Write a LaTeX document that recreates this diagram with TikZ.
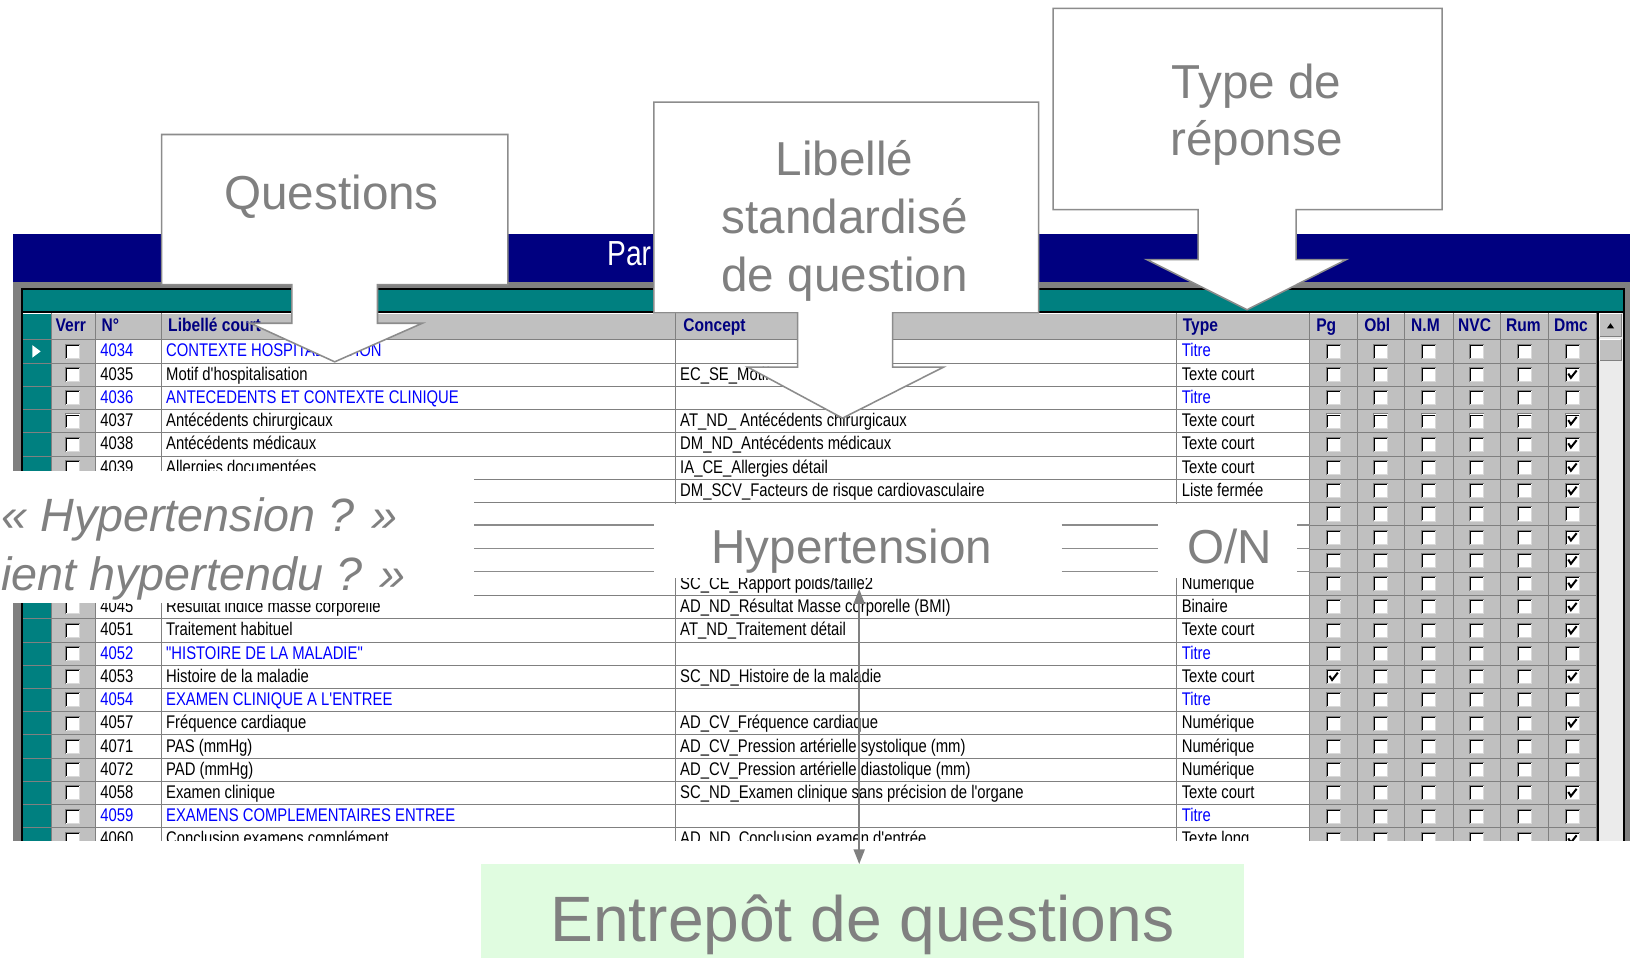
\documentclass[tikz,border=0pt]{standalone}
\usepackage{fontspec}
\setmainfont{Liberation Sans}
\newfontfamily\tabfont[FakeStretch=0.81]{Liberation Sans}
\newfontfamily\headfont[FakeStretch=0.85]{Liberation Sans}
\usetikzlibrary{arrows.meta}
\definecolor{winnavy}{RGB}{0,0,128}
\definecolor{winteal}{RGB}{0,128,128}
\definecolor{wingray}{RGB}{192,192,192}
\definecolor{windark}{RGB}{128,128,128}
\definecolor{callgray}{RGB}{128,128,128}
\definecolor{storegreen}{RGB}{224,252,224}
\definecolor{titreblue}{RGB}{0,0,255}
\def\rowy#1{337+22.29*#1}
\newcommand{\chkbox}[2]{%
  \fill[white] (#1-7,#2-7) rectangle (#1+7,#2+7);
  \draw[windark] (#1-7,#2+7) -- (#1-7,#2-7) -- (#1+7,#2-7);
  \draw[black] (#1-6,#2+6) -- (#1-6,#2-6) -- (#1+6,#2-6);
  \draw[black!15] (#1-6,#2+6.5) -- (#1+6.5,#2+6.5) -- (#1+6.5,#2-6);}
\newcommand{\chkmark}[2]{%
  \draw[line width=1.1pt] (#1-4,#2-1) -- (#1-1.5,#2+3) -- (#1+4,#2-4);}
\newcommand{\qrow}[6]{%
  \node[cell,text=#2] (n#1) at (96,{\rowy{#1}}) {#3};
  \node[cell,text=#2] (l#1) at (159,{\rowy{#1}}) {#4};
  \node[cell] (c#1) at (652,{\rowy{#1}}) {#5};
  \node[cell,text=#2] (t#1) at (1133,{\rowy{#1}}) {#6};}

\begin{document}
\begin{tikzpicture}[x=0.02cm, y=-0.02cm,
    cell/.style={anchor=west, inner sep=0pt, text height=8pt, text depth=2pt,
      font=\tabfont\fontsize{10}{12}\selectfont},
    headcell/.style={anchor=west, inner sep=0pt, text height=8pt, text depth=2pt,
      text=winnavy, font=\headfont\bfseries\fontsize{10}{12}\selectfont},
    callout/.style={draw=black!45, fill=white, line width=0.85pt},
    bigtext/.style={text=callgray, inner sep=0pt, font=\fontsize{26}{31.5}\selectfont},
    asktext/.style={text=callgray, inner sep=0pt, anchor=base west, font=\fontsize{25.5}{31}\selectfont\itshape},
    decoline/.style={draw=black!45, line width=0.85pt},
    linkarrow/.style={draw=callgray, line width=1pt, <->, >={Triangle[length=8pt,width=6pt]}},
    storebox/.style={fill=storegreen, inner sep=0pt, minimum width=14.64cm, minimum height=1.8cm}]
  \useasboundingbox (0,0) rectangle (1568,919);
  %%%%% START %%%%%

  % window title
  \fill[winnavy] (12,224) rectangle (1563,270);
  \node[anchor=base west, inner sep=0pt, text=white, font=\tabfont\fontsize{19}{20}\selectfont] (title) at (582,255) {Par};

  \begin{scope}
    \clip (0,0) rectangle (1568,806);
    \fill[windark] (12,270) rectangle (1563,820);
    \fill[black] (20,276) rectangle (1558,820);
    \fill[winteal] (22,278) rectangle (1556,298);
    \fill[wingray] (22,300) rectangle (1531,820);
    \fill[white] (91,326) rectangle (1256,820);
    \fill[winteal] (22,300) rectangle (49,820);

    % scroll bar
    \fill[black!8] (1533,300) rectangle (1556,820);
    \fill[wingray] (1534,301) rectangle (1555,323);
    \draw[white] (1534,323) -- (1534,301) -- (1555,301);
    \draw[windark] (1534,323) -- (1555,323) -- (1555,301);
    \fill[black] (1541,315) -- (1548,315) -- (1544.5,310) -- cycle;
    \fill[wingray] (1534,325) rectangle (1555,346);
    \draw[white] (1534,346) -- (1534,325) -- (1555,325);
    \draw[windark] (1534,346) -- (1555,346) -- (1555,325);

    % grid
    \draw[white] (22,301) -- (1531,301);
    \foreach \i in {0,...,21}
      \draw[windark] (22,{325.8+22.29*\i}) -- (1531,{325.8+22.29*\i});
    \foreach \cx in {49,91,155,648,1128,1256,1302,1347,1394,1439,1485,1531}
      \draw[windark] (\cx,300) -- (\cx,820);

    % column heads
    \node[headcell] (hverr) at (53,313) {Verr};
    \node[headcell] (hnum) at (97,313) {N°};
    \node[headcell] (hlib) at (161,313) {Libellé court};
    \node[headcell] (hconcept) at (655,313) {Concept};
    \node[headcell] (htype) at (1134,313) {Type};
    \node[headcell] (hpg) at (1262,313) {Pg};
    \node[headcell] (hobl) at (1308,313) {Obl};
    \node[headcell] (hnm) at (1353,313) {N.M};
    \node[headcell] (hnvc) at (1398,313) {NVC};
    \node[headcell] (hrum) at (1444,313) {Rum};
    \node[headcell] (hdmc) at (1490,313) {Dmc};

    \fill[white] (31,331) -- (39,337) -- (31,343) -- cycle;

    % rows
    \qrow{0}{titreblue}{4034}{CONTEXTE HOSPITALISATION}{}{Titre}
    \qrow{1}{black}{4035}{Motif d'hospitalisation}{EC\_SE\_Motif}{Texte court}
    \qrow{2}{titreblue}{4036}{ANTECEDENTS ET CONTEXTE CLINIQUE}{}{Titre}
    \qrow{3}{black}{4037}{Antécédents chirurgicaux}{AT\_ND\_ Antécédents chirurgicaux}{Texte court}
    \qrow{4}{black}{4038}{Antécédents médicaux}{DM\_ND\_Antécédents médicaux}{Texte court}
    \qrow{5}{black}{4039}{Allergies documentées}{IA\_CE\_Allergies détail}{Texte court}
    \qrow{6}{black}{}{}{DM\_SCV\_Facteurs de risque cardiovasculaire}{Liste fermée}
    \qrow{10}{black}{}{}{SC\_CE\_Rapport poids/taille2}{Numérique}
    \qrow{11}{black}{4045}{Résultat indice masse corporelle}{AD\_ND\_Résultat Masse corporelle (BMI)}{Binaire}
    \qrow{12}{black}{4051}{Traitement habituel}{AT\_ND\_Traitement détail}{Texte court}
    \qrow{13}{titreblue}{4052}{"HISTOIRE DE LA MALADIE"}{}{Titre}
    \qrow{14}{black}{4053}{Histoire de la maladie}{SC\_ND\_Histoire de la maladie}{Texte court}
    \qrow{15}{titreblue}{4054}{EXAMEN CLINIQUE A L'ENTREE}{}{Titre}
    \qrow{16}{black}{4057}{Fréquence cardiaque}{AD\_CV\_Fréquence cardiaque}{Numérique}
    \qrow{17}{black}{4071}{PAS (mmHg)}{AD\_CV\_Pression artérielle systolique (mm)}{Numérique}
    \qrow{18}{black}{4072}{PAD (mmHg)}{AD\_CV\_Pression artérielle diastolique (mm)}{Numérique}
    \qrow{19}{black}{4058}{Examen clinique}{SC\_ND\_Examen clinique sans précision de l'organe}{Texte court}
    \qrow{20}{titreblue}{4059}{EXAMENS COMPLEMENTAIRES ENTREE}{}{Titre}
    \qrow{21}{black}{4060}{Conclusion examens complément}{AD\_ND\_Conclusion examen d'entrée}{Texte long}

    % check boxes
    \foreach \i in {0,...,21} {
      \pgfmathsetmacro\yy{337+22.29*\i}
      \foreach \cx in {70,1279,1324,1370,1416,1462,1508} {\chkbox{\cx}{\yy}}
    }
    \foreach \i in {1,3,4,5,6,8,9,10,11,12,14,16,19,21} {
      \pgfmathsetmacro\yy{337+22.29*\i}
      \chkmark{1508}{\yy}
    }
    \chkmark{1279}{649.1}
  \end{scope}

  % white band over the table
  \fill[white] (-10,452) rectangle (455,578);
  \fill[white] (455,483) rectangle (1255.5,554);
  \foreach \yy in {503.5,526,548} {
    \draw[decoline] (455,\yy) -- (627,\yy);
    \draw[decoline] (1018,\yy) -- (1111,\yy);
    \draw[decoline] (1244,\yy) -- (1256,\yy);
  }
  \node[bigtext, anchor=base] (hyp) at (817,540) {Hypertension};
  \node[bigtext, anchor=base] (yesno) at (1179,540) {O/N};
  \node[asktext] (askone) at (1,510) {« Hypertension ? »};
  \node[asktext] (asktwo) at (1,566) {ient hypertendu ? »};

  % question store
  \node[storebox] (store) at (827,874) {};
  \node[bigtext, anchor=base, font=\fontsize{35}{40}\selectfont] (storelbl) at (827,903) {Entrepôt de questions};
  \coordinate (stalk) at (824,565);
  \draw[linkarrow] (stalk) -- (stalk |- store.north);

  % callouts
  \draw[callout] (155,129) -- (487,129) -- (487,273) -- (362,273) -- (362,310) -- (405,310)
    -- (321,347) -- (240,310) -- (280,310) -- (280,273) -- (155,273) -- cycle;
  \node[bigtext, anchor=base] (questions) at (318,201) {Questions};

  \draw[callout] (627,98) -- (996,98) -- (996,300) -- (856,300) -- (856,352) -- (905,352)
    -- (808,401) -- (717,352) -- (765,352) -- (765,300) -- (627,300) -- cycle;
  \node[bigtext, align=center] (libstd) at (810,212) {Libellé\\standardisé\\de question};

  \draw[callout] (1010,8) -- (1383,8) -- (1383,201) -- (1243,201) -- (1243,249) -- (1291,249)
    -- (1196,297) -- (1100,249) -- (1149,249) -- (1149,201) -- (1010,201) -- cycle;
  \node[bigtext, align=center] (rtype) at (1205,110) {Type de\\réponse};

  %%%%% END %%%%%
\end{tikzpicture}
\end{document}
